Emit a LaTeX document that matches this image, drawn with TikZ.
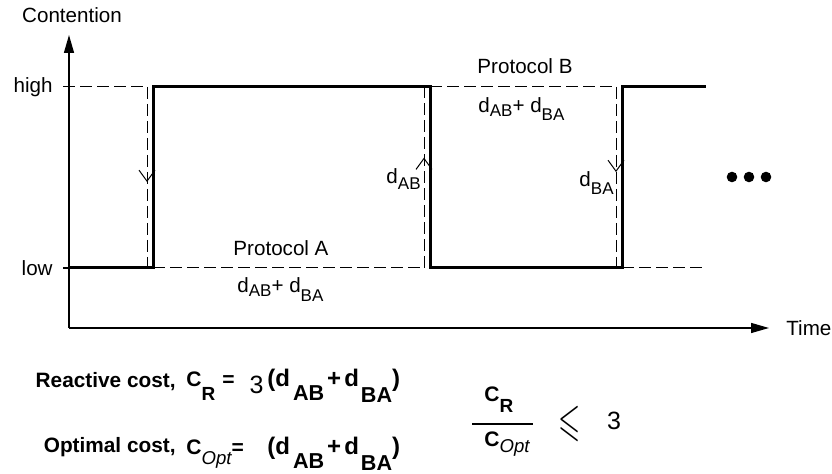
\documentclass[tikz,border=0pt]{standalone}
\usepackage{amssymb}
\usepackage{fontspec}
\setmainfont{Liberation Sans}
\usetikzlibrary{positioning, arrows.meta, calc, decorations.markings}

\newcommand{\dlab}[2]{d\raisebox{-#1}{\fontsize{8.5}{9}\selectfont #2}}
\newcommand{\bsub}[3][9.5]{\raisebox{-#2}{\fontsize{#1}{10}\selectfont\bfseries #3}}
\newcommand{\optsub}[1]{\raisebox{-#1}{\mdseries\itshape\fontsize{9.3}{10}\selectfont Opt}}

\begin{document}
\begin{tikzpicture}[x=0.5pt, y=-0.5pt,
  axis/.style={line width=0.7pt, -{Triangle[length=9pt,width=5pt]}},
  signal/.style={line width=1.5pt},
  guide/.style={line width=0.5pt, dash pattern=on 6pt off 2.5pt},
  midtip/.style={postaction={decorate, decoration={markings,
      mark=at position #1 with {\arrow{Straight Barb[length=5.5pt,width=8pt,line width=0.5pt]}}}}},
  lbl/.style={inner sep=0pt, font=\fontsize{10.3}{12}\selectfont},
  cost/.style={inner sep=0pt, font=\fontsize{10.4}{12}\selectfont\bfseries},
  formula/.style={inner sep=0pt, font=\fontsize{10.5}{12}\selectfont\bfseries},
  sumfont/.style={inner sep=0pt, font=\fontsize{12}{14}\selectfont\bfseries},
  dot/.style={circle, fill, inner sep=0pt, minimum size=5.3pt}]
  \useasboundingbox (0,0) rectangle (832,474);

  \coordinate (origin) at (69,328);
  \coordinate (ytop) at (69,35);
  \coordinate (xend) at (769,328);
  \coordinate (hi) at (63,87);
  \coordinate (lo) at (63,268);
  \draw[axis] (origin) -- (ytop);
  \draw[axis] (origin) -- (xend);
  \node[lbl] (cont) at (72,15) {Contention};
  \node[lbl, right=8.5pt of xend] (time) {Time};
  \node[lbl, left=5pt of hi] (high) {high};
  \node[lbl, left=5pt of lo] (low) {low};
  \draw[line width=0.7pt] (lo) -- (origin |- lo);

  \draw[signal] (origin |- lo) -| (153,87) -| (430,268) -| (622,87) -- (706,87);

  \draw[guide] (hi) -- (147,87);
  \draw[guide, midtip=0.525] (147,87) -- (147,268);
  \draw[guide] (153,268) -- (424,268);
  \draw[guide, midtip=0.61] (424,268) -- (424,87);
  \draw[guide] (430,87) -- (616,87);
  \draw[guide, midtip=0.47] (616,87) -- (616,268);
  \draw[guide] (622,268) -- (706,268);

  \node[lbl] (protA) at (281,248) {Protocol A};
  \node[lbl, anchor=base west] (sumA) at (237,293) {\dlab{2pt}{AB}+ \dlab{4.5pt}{BA}};
  \node[lbl] (protB) at (525,66) {Protocol B};
  \node[lbl, anchor=base west] (sumB) at (478,113) {\dlab{2pt}{AB}+ \dlab{4pt}{BA}};
  \node[lbl, anchor=base east] (dAB) at (421,184) {\dlab{3pt}{AB}};
  \node[lbl, anchor=base east] (dBA) at (614,187) {\dlab{4pt}{BA}};

  \node[dot] (dot1) at (732,177) {};
  \node[dot] (dot2) at (749,177) {};
  \node[dot] (dot3) at (766,177) {};

  \node[cost, anchor=base east] (react) at (176,388) {Reactive cost,};
  \node[cost, anchor=base east] (optim) at (176,453) {Optimal cost,};
  \node[formula, anchor=base west] (cR) at (186,387)
    {C\bsub{7pt}{R}\hspace{3.5pt}=\hspace{7.5pt}\raisebox{-3.5pt}{\mdseries\fontsize{12.5}{12}\selectfont 3}};
  \node[formula, anchor=base west] (cOpt) at (186,455)
    {C\optsub{5pt}=};
  \node[sumfont, anchor=base west] (sumR) at (267,387)
    {(d\hspace{1.5pt}\bsub[10.8]{7pt}{AB}\hspace{1.5pt}+\hspace{1.5pt}d\hspace{1pt}\bsub[10.8]{8pt}{BA})};
  \node[sumfont, anchor=base west] (sumOpt) at (267,455)
    {(d\hspace{1.5pt}\bsub[10.8]{7pt}{AB}\hspace{1.5pt}+\hspace{1.5pt}d\hspace{1pt}\bsub[10.8]{8pt}{BA})};

  \node[formula, anchor=base west] (num) at (484,402) {C\bsub{5.5pt}{R}};
  \coordinate (barL) at (472,424);
  \coordinate (barR) at (533,424);
  \draw[line width=0.6pt] (barL) -- (barR);
  \node[formula, anchor=base west] (den) at (484,447) {C\optsub{3pt}};
  \node[inner sep=0pt] (leq) at (570,424) {\scalebox{0.62}[1]{\fontsize{23}{23}\selectfont$\leqslant$}};
  \node[inner sep=0pt, font=\fontsize{12.5}{14}\selectfont] (three) at (614,421) {3};
\end{tikzpicture}
\end{document}
